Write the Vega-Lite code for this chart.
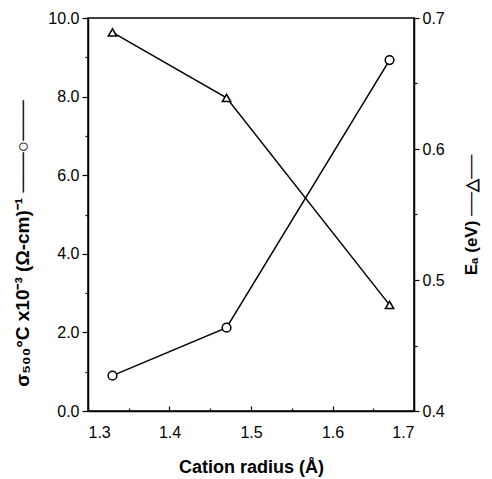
{
  "$schema": "https://vega.github.io/schema/vega-lite/v6.json",
  "width": 326,
  "height": 393,
  "autosize": {"type": "none"},
  "padding": {"left": 88, "top": 18, "right": 78, "bottom": 68},
  "background": "white",
  "config": {
    "view": {"stroke": "black", "strokeWidth": 1.5},
    "font": "Liberation Sans",
    "axis": {
      "domainColor": "black", "domainWidth": 1.5, "tickColor": "black", "tickWidth": 1.2,
      "labelColor": "black", "labelFontSize": 16, "labelFont": "Liberation Sans",
      "titleColor": "black", "titleFontSize": 18, "titleFontWeight": "bold", "titleFont": "Liberation Sans",
      "grid": false
    }
  },
  "data": {"values": [
    {"r": 1.33, "sigma": 0.9, "ea": 0.689},
    {"r": 1.47, "sigma": 2.12, "ea": 0.639},
    {"r": 1.67, "sigma": 8.93, "ea": 0.481}
  ]},
  "encoding": {
    "x": {
      "field": "r", "type": "quantitative",
      "scale": {"domain": [1.3, 1.7], "nice": false, "zero": false},
      "axis": {
        "title": "Cation  radius  (Å)",
        "values": [1.3, 1.35, 1.4, 1.45, 1.5, 1.55, 1.6, 1.65, 1.7],
        "labelExpr": "abs(datum.value*10 - round(datum.value*10)) < 0.01 ? format(datum.value, '.1f') : ''",
        "tickSize": {"condition": {"test": "abs(datum.value*10 - round(datum.value*10)) < 0.01", "value": -5}, "value": -3},
        "labelPadding": 18,
        "titlePadding": 18
      }
    }
  },
  "layer": [
    {
      "mark": {"type": "line", "color": "black", "strokeWidth": 1.5,
        "point": {"shape": "circle", "filled": false, "fill": "white", "stroke": "black", "strokeWidth": 1.5, "size": 75, "opacity": 1}},
      "encoding": {
        "y": {
          "field": "sigma", "type": "quantitative",
          "scale": {"domain": [0, 10], "nice": false},
          "axis": {
            "orient": "left",
            "title": "σ₅₀₀°C x10⁻³  (Ω-cm)⁻¹   ───○───",
            "titleFontSize": 19,
            "titleY": 225,
            "values": [0, 1, 2, 3, 4, 5, 6, 7, 8, 9, 10],
            "labelExpr": "datum.value % 2 == 0 ? format(datum.value, '.1f') : ''",
            "tickSize": {"condition": {"test": "datum.value % 2 == 0", "value": 6}, "value": 3},
            "labelPadding": 3,
            "titlePadding": 15
          }
        }
      }
    },
    {
      "mark": {"type": "line", "color": "black", "strokeWidth": 1.5,
        "point": {"shape": "triangle-up", "filled": false, "fill": "white", "stroke": "black", "strokeWidth": 1.5, "size": 70, "opacity": 1}},
      "encoding": {
        "y": {
          "field": "ea", "type": "quantitative",
          "scale": {"domain": [0.4, 0.7], "nice": false, "zero": false},
          "axis": {
            "orient": "right",
            "title": "Eₐ (eV)  ──△──",
            "titleAngle": 270,
            "titleFontSize": 17,
            "values": [0.4, 0.45, 0.5, 0.55, 0.6, 0.65, 0.7],
            "labelExpr": "abs(datum.value*10 - round(datum.value*10)) < 0.01 ? format(datum.value, '.1f') : ''",
            "tickSize": {"condition": {"test": "abs(datum.value*10 - round(datum.value*10)) < 0.01", "value": 5}, "value": 3},
            "labelPadding": 3,
            "titlePadding": 36
          }
        }
      }
    }
  ],
  "resolve": {"scale": {"y": "independent"}}
}
